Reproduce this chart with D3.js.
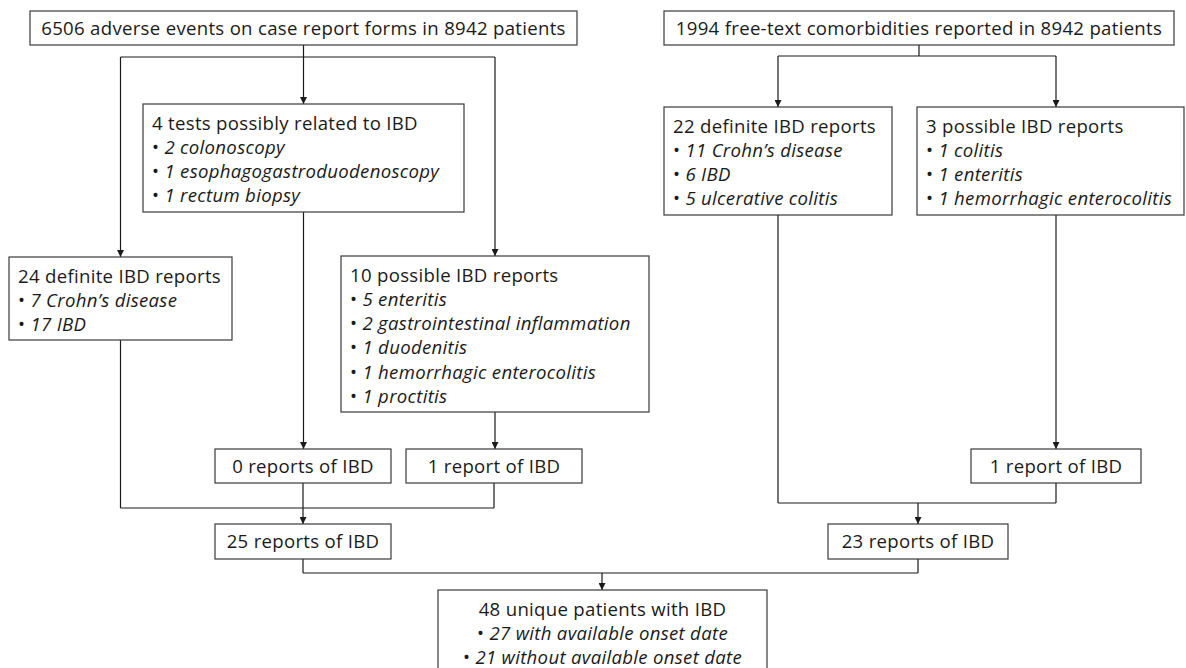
<!DOCTYPE html>
<html>
<head>
<meta charset="utf-8">
<script src="https://cdn.jsdelivr.net/npm/d3@7"></script>
<style>
  html, body { margin: 0; padding: 0; background: #fff; }
  svg { display: block; }
</style>
</head>
<body>
<svg id="flow"></svg>
<script>
// flow chart content
const nodeIds = ['crf', 'comorb', 'tests', 'crfDefinite', 'crfPossible', 'testsIbd', 'crfPossibleIbd',
  'crfTotal', 'comDefinite', 'comPossible', 'comPossibleIbd', 'comTotal', 'unique'];
const nodeTitles = [
  '6506 adverse events on case report forms in 8942 patients',
  '1994 free-text comorbidities reported in 8942 patients',
  '4 tests possibly related to IBD',
  '24 definite IBD reports',
  '10 possible IBD reports',
  '0 reports of IBD',
  '1 report of IBD',
  '25 reports of IBD',
  '22 definite IBD reports',
  '3 possible IBD reports',
  '1 report of IBD',
  '23 reports of IBD',
  '48 unique patients with IBD'
];
const nodeItems = [
  [],
  [],
  ['2 colonoscopy', '1 esophagogastroduodenoscopy', '1 rectum biopsy'],
  ['7 Crohn\u2019s disease', '17 IBD'],
  ['5 enteritis', '2 gastrointestinal inflammation', '1 duodenitis', '1 hemorrhagic enterocolitis', '1 proctitis'],
  [],
  [],
  [],
  ['11 Crohn\u2019s disease', '6 IBD', '5 ulcerative colitis'],
  ['1 colitis', '1 enteritis', '1 hemorrhagic enterocolitis'],
  [],
  [],
  ['27 with available onset date', '21 without available onset date']
];

// one source splitting to several boxes, several boxes merging into one, plain arrows
const splits = [
  ['crf', ['crfDefinite', 'tests', 'crfPossible']],
  ['comorb', ['comDefinite', 'comPossible']]
];
const merges = [
  [['crfDefinite', 'testsIbd', 'crfPossibleIbd'], 'crfTotal'],
  [['comDefinite', 'comPossibleIbd'], 'comTotal'],
  [['crfTotal', 'comTotal'], 'unique']
];
const arrows = [
  ['tests', 'testsIbd'],
  ['crfPossible', 'crfPossibleIbd'],
  ['comPossible', 'comPossibleIbd']
];

// drawing constants
const WIDTH = 1186;
const HEIGHT = 668;
const FONT = '"Open Sans", "Noto Sans", sans-serif';
const FONT_SIZE = 18.6;
const LETTER_SPACING = 0.3;
const LINE_GAP = 24.3;
const PAD_X = 9;
const INK = '#1a1a1a';
const EDGE = '#3a3a3a';

// box placement (layout only)
const layout = {
  crf:            { x: 30,  y: 11,  w: 547, h: 34, align: 'middle' },
  comorb:         { x: 664, y: 11,  w: 510, h: 34, align: 'middle' },
  tests:          { x: 143, y: 104, w: 321, h: 108 },
  crfDefinite:    { x: 9,   y: 257, w: 223, h: 83 },
  crfPossible:    { x: 341, y: 256, w: 308, h: 156 },
  testsIbd:       { x: 215, y: 449, w: 176, h: 34, align: 'middle' },
  crfPossibleIbd: { x: 406, y: 449, w: 176, h: 34, align: 'middle' },
  crfTotal:       { x: 215, y: 524, w: 176, h: 35, align: 'middle' },
  comDefinite:    { x: 664, y: 107, w: 228, h: 108 },
  comPossible:    { x: 917, y: 107, w: 267, h: 108, cx: 1056 },
  comPossibleIbd: { x: 971, y: 449, w: 170, h: 34, align: 'middle' },
  comTotal:       { x: 828, y: 524, w: 180, h: 35, align: 'middle' },
  unique:         { x: 438, y: 590, w: 329, h: 84, align: 'middle', cx: 602 }
};
const busY = { crf: 57, comorb: 56, crfTotal: 508, comTotal: 503, unique: 573 };

const nodes = nodeIds.map((id, i) => {
  const b = layout[id];
  return Object.assign({ id, title: nodeTitles[i], items: nodeItems[i] }, b,
    { cx: b.cx !== undefined ? b.cx : b.x + b.w / 2 });
});
const byId = new Map(nodes.map(d => [d.id, d]));

const svg = d3.select('#flow')
  .attr('width', WIDTH)
  .attr('height', HEIGHT)
  .attr('font-family', FONT)
  .attr('font-size', FONT_SIZE)
  .attr('letter-spacing', LETTER_SPACING);

svg.append('defs').append('marker')
  .attr('id', 'head')
  .attr('viewBox', '0 0 10 10')
  .attr('refX', 10)
  .attr('refY', 5)
  .attr('markerUnits', 'userSpaceOnUse')
  .attr('markerWidth', 7)
  .attr('markerHeight', 7)
  .attr('orient', 'auto')
  .append('path')
  .attr('d', 'M0,0L10,5L0,10Z')
  .attr('fill', INK);

const line = d3.line();
const links = svg.append('g')
  .attr('fill', 'none')
  .attr('stroke', INK)
  .attr('stroke-width', 1.2);

const bottom = d => d.y + d.h;

// split: parent down to a bus, bus across, then down to each child
splits.forEach(([from, tos]) => {
  const p = byId.get(from);
  const y = busY[from];
  const kids = tos.map(t => byId.get(t));
  const xs = kids.map(k => k.cx);
  links.append('path').attr('d', line([[p.cx, bottom(p)], [p.cx, y]]));
  links.append('path').attr('d', line([[d3.min(xs), y], [d3.max(xs), y]]));
  kids.forEach(k => {
    links.append('path').attr('d', line([[k.cx, y], [k.cx, k.y]])).attr('marker-end', 'url(#head)');
  });
});

// merge: every source down to a bus, bus across, then down to the target
merges.forEach(([froms, to]) => {
  const t = byId.get(to);
  const y = busY[to];
  const srcs = froms.map(f => byId.get(f));
  const xs = srcs.map(s => s.cx);
  srcs.forEach(s => links.append('path').attr('d', line([[s.cx, bottom(s)], [s.cx, y]])));
  links.append('path').attr('d', line([[d3.min(xs), y], [d3.max(xs), y]]));
  links.append('path').attr('d', line([[t.cx, y], [t.cx, t.y]])).attr('marker-end', 'url(#head)');
});

arrows.forEach(([from, to]) => {
  const s = byId.get(from);
  const t = byId.get(to);
  links.append('path').attr('d', line([[s.cx, bottom(s)], [s.cx, t.y]])).attr('marker-end', 'url(#head)');
});

// boxes
const box = svg.append('g').selectAll('g')
  .data(nodes)
  .join('g')
  .attr('transform', d => `translate(${d.x},${d.y})`);

box.append('rect')
  .attr('width', d => d.w)
  .attr('height', d => d.h)
  .attr('fill', '#fff')
  .attr('stroke', EDGE)
  .attr('stroke-width', 1.2);

box.each(function (d) {
  const g = d3.select(this);
  const centred = d.align === 'middle';
  const tx = centred ? d.w / 2 : PAD_X;
  const anchor = centred ? 'middle' : 'start';
  const single = d.items.length === 0;
  const firstY = single ? d.h / 2 : 19;

  g.append('text')
    .attr('x', tx)
    .attr('y', firstY)
    .attr('dy', '0.35em')
    .attr('text-anchor', anchor)
    .attr('fill', INK)
    .text(d.title);

  d.items.forEach((item, i) => {
    const t = g.append('text')
      .attr('x', tx)
      .attr('y', firstY + LINE_GAP * (i + 1))
      .attr('dy', '0.35em')
      .attr('text-anchor', anchor)
      .attr('fill', INK);
    t.append('tspan').text('\u2022 ');
    t.append('tspan').attr('font-style', 'italic').text(item);
  });
});
</script>
</body>
</html>
